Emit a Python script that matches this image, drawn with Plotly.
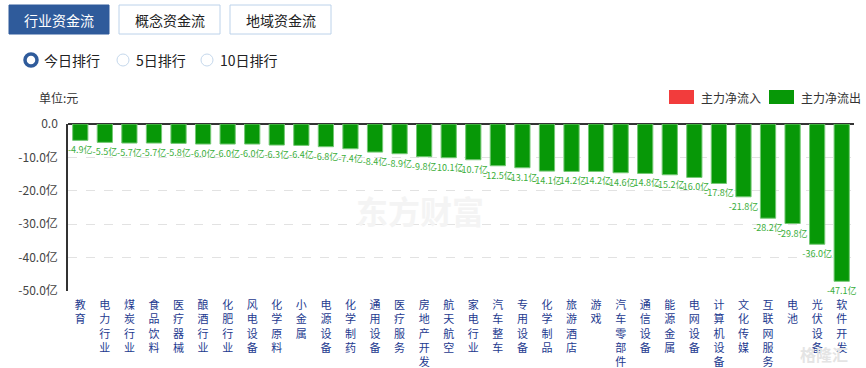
import plotly.graph_objects as go

categories = ["教育", "电力行业", "煤炭行业", "食品饮料", "医疗器械", "酿酒行业", "化肥行业", "风电设备",
              "化学原料", "小金属", "电源设备", "化学制药", "通用设备", "医疗服务", "房地产开发", "航天航空",
              "家电行业", "汽车整车", "专用设备", "化学制品", "旅游酒店", "游戏", "汽车零部件", "通信设备",
              "能源金属", "电网设备", "计算机设备", "文化传媒", "互联网服务", "电池", "光伏设备", "软件开发"]
values = [-4.9, -5.5, -5.7, -5.7, -5.8, -6.0, -6.0, -6.0, -6.3, -6.4, -6.8, -7.4, -8.4, -8.9, -9.8, -10.1,
          -10.7, -12.5, -13.1, -14.1, -14.2, -14.2, -14.6, -14.8, -15.2, -16.0, -17.8, -21.8, -28.2, -29.8,
          -36.0, -47.1]
ytick_vals = [0, -10, -20, -30, -40, -50]
ytick_text = ["0.0", "-10.0亿", "-20.0亿", "-30.0亿", "-40.0亿", "-50.0亿"]

W, H = 866, 368
L, R, T, B = 68, 854, 124, 291


def px(x):
    return (x - L) / (R - L)


def py(y):
    return (B - y) / (B - T)


FONT = "Noto Sans CJK SC, Microsoft YaHei, sans-serif"

fig = go.Figure()
fig.add_trace(go.Bar(
    x=categories, y=values,
    marker=dict(color="#079807", line=dict(color="#74c874", width=1)),
    text=[f"{v:.1f}亿" for v in values],
    textposition="outside", constraintext="none", cliponaxis=False,
    textfont=dict(size=9, color="#3aae3a", family=FONT),
    showlegend=False, hoverinfo="skip",
))

shapes = []
annotations = []

# top buttons
buttons = [("行业资金流", 9, 109, True), ("概念资金流", 119, 220, False), ("地域资金流", 230, 331, False)]
for label, x0, x1, active in buttons:
    shapes.append(dict(type="rect", xref="paper", yref="paper", x0=px(x0), x1=px(x1), y0=py(34), y1=py(5),
                       fillcolor="#2f5b9b" if active else "#ffffff",
                       line=dict(color="#2f5b9b" if active else "#bcd2ea", width=1), layer="above"))
    annotations.append(dict(xref="paper", yref="paper", x=px((x0 + x1) / 2), y=py(19.5), text=label,
                            showarrow=False, xanchor="center", yanchor="middle",
                            font=dict(size=14, color="#ffffff" if active else "#222222", family=FONT)))

# radio buttons
radios = [("今日排行", 31, 42, True), ("5日排行", 123, 134, False), ("10日排行", 207, 218, False)]
for label, cx, tx, active in radios:
    r = 6
    shapes.append(dict(type="circle", xref="paper", yref="paper", x0=px(cx - r), x1=px(cx + r),
                       y0=py(60 + r), y1=py(60 - r), fillcolor="#ffffff",
                       line=dict(color="#2f5b9b" if active else "#c5d8ec", width=3.5 if active else 1)))
    annotations.append(dict(xref="paper", yref="paper", x=px(tx), y=py(60), text=label, showarrow=False,
                            xanchor="left", yanchor="middle", font=dict(size=14, color="#222222", family=FONT)))

# unit label
annotations.append(dict(xref="paper", yref="paper", x=px(37), y=py(97), text="单位:元", showarrow=False,
                        xanchor="left", yanchor="middle", font=dict(size=12, color="#333333", family=FONT)))

# custom legend
for label, x0, color in [("主力净流入", 669, "#f23c3c"), ("主力净流出", 769, "#079807")]:
    shapes.append(dict(type="rect", xref="paper", yref="paper", x0=px(x0), x1=px(x0 + 25), y0=py(104),
                       y1=py(90), fillcolor=color, line=dict(width=0)))
    annotations.append(dict(xref="paper", yref="paper", x=px(x0 + 30), y=py(97), text=label, showarrow=False,
                            xanchor="left", yanchor="middle", font=dict(size=12, color="#333333", family=FONT)))

# watermarks
annotations.append(dict(xref="paper", yref="paper", x=px(420), y=py(210), text="<b>东方财富</b>", showarrow=False,
                        xanchor="center", yanchor="middle", font=dict(size=32, color="#f4f4f4", family=FONT)))
annotations.append(dict(xref="paper", yref="paper", x=px(824), y=py(354), text="<b>格隆汇</b>", showarrow=False,
                        xanchor="center", yanchor="middle", font=dict(size=16, color="#e4e4e4", family=FONT)))

fig.update_layout(
    width=W, height=H, autosize=False,
    margin=dict(l=L, r=W - R, t=T, b=H - B, pad=0, autoexpand=False),
    paper_bgcolor="#ffffff", plot_bgcolor="#ffffff",
    bargap=0.38,
    shapes=shapes, annotations=annotations,
    font=dict(family=FONT),
    xaxis=dict(
        tickmode="array", tickvals=categories,
        ticktext=["<br>".join(list(c)) for c in categories],
        tickfont=dict(size=11, color="#1d3a8f", family=FONT),
        showgrid=False, showline=False, ticks="", ticklabelstandoff=6,
        range=[-0.5, len(categories) - 0.5], fixedrange=True, automargin=False,
    ),
    yaxis=dict(
        range=[-50, 0], tickvals=ytick_vals, ticktext=ytick_text,
        tickfont=dict(size=12, color="#444444", family=FONT),
        showgrid=True, gridcolor="#e2e2e2", griddash="dash", gridwidth=1,
        zeroline=True, zerolinecolor="#333333", zerolinewidth=1.5,
        showline=True, linecolor="#333333", linewidth=1.5,
        ticks="", ticklabelstandoff=6, fixedrange=True, automargin=False,
    ),
)

fig.write_html("out.html", config={"displayModeBar": False},
               post_script="document.body.style.margin='0';document.body.style.overflow='hidden';")
